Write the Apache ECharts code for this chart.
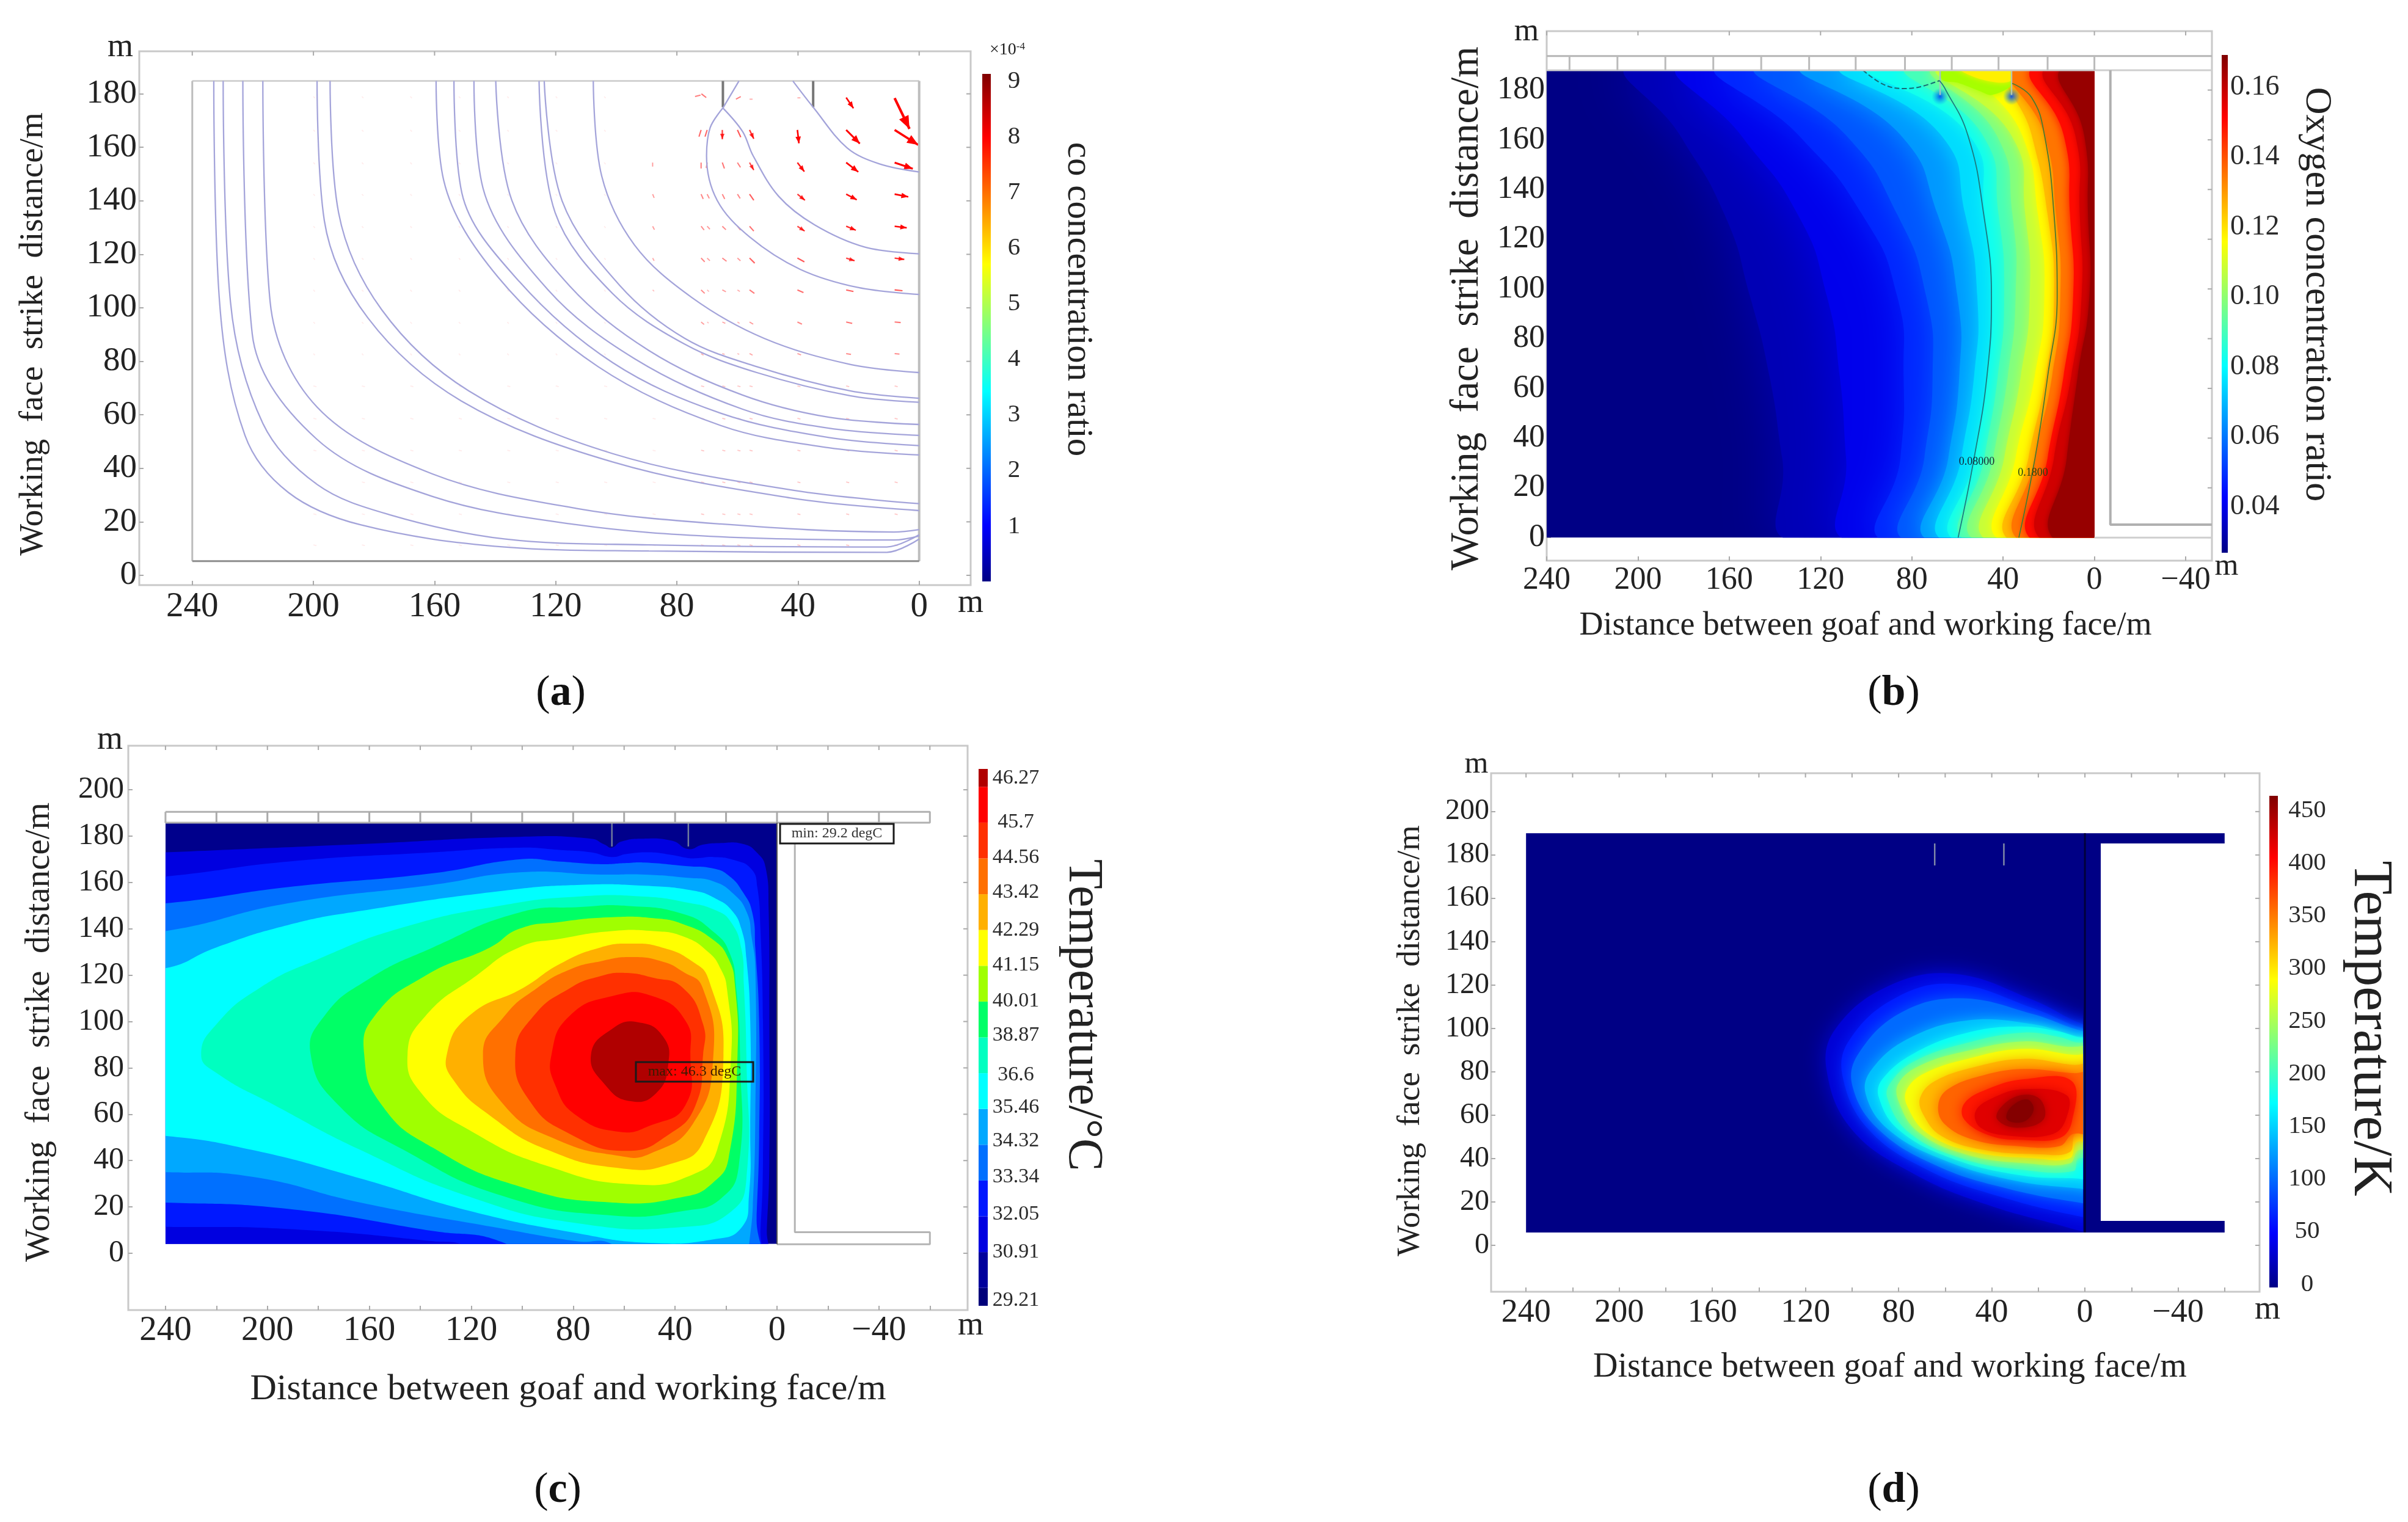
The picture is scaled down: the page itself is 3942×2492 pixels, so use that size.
<!DOCTYPE html>
<html><head><meta charset="utf-8">
<style>html,body{margin:0;padding:0;background:#fff}#c{width:3942px;height:2492px}</style>
<script src="https://cdn.jsdelivr.net/npm/echarts@6/dist/echarts.min.js"></script>
</head><body><div id="c"></div>
<script>
const FONT='Liberation Serif';
// tick labels
const xTicksA=[240,200,160,120,80,40,0];
const xTicksB=[240,200,160,120,80,40,0,-40];
const xMinorTicks=[240,220,200,180,160,140,120,100,80,60,40,20,0,-20,-40,-60];
const yTicksShort=[0,20,40,60,80,100,120,140,160,180];
const yTicksLong=[0,20,40,60,80,100,120,140,160,180,200];
const barTicksA=[1,2,3,4,5,6,7,8,9];
const barTicksB=[0.04,0.06,0.08,0.10,0.12,0.14,0.16];
const barTicksD=[0,50,100,150,200,250,300,350,400,450];
const barLabelsC=['29.21','30.91','32.05','33.34','34.32','35.46','36.6','38.87','40.01','41.15','42.29','43.42','44.56','45.7','46.27'];
const barLabelPosC=[0.15,1.5,2.55,3.6,4.6,5.55,6.45,7.55,8.52,9.52,10.5,11.55,12.52,13.52,14.75];
const bandColorsC=['#00007a','#00009c','#0000e0','#0018ff','#0070ff','#00a8ff','#00ffff','#00ffc0','#00ff66','#a0ff00','#ffff00','#ffb000','#ff7000','#ff3000','#ff0000','#b00000'];

// (a) CO contours
const aC1=[[0,150.8],[13.1,153.8],[23.8,159.8],[35,175],[41.7,184.8]];
const aC2=[[0,120.2],[17.9,122.7],[34.5,131],[46.4,141.7],[54.8,156.8],[58.3,165.9],[64.8,174.7]];
const aC2b=[[64.8,174.7],[59.5,184.8]];
const aC3=[[0,105],[20.2,107.6],[39.3,114.4],[56,126.5],[66.7,140.2],[70.2,156.8],[69,167.4],[64.8,174.7]];
const aC4=[[0,75.8],[22.6,78.8],[51.2,88.6],[75,103.8],[94,123.5],[104.8,149.2],[107.6,184.8]];
const aC5=[[0,66.2],[22.6,68.9],[53.6,78],[77.4,88.6],[98.8,108.3],[117.9,140],[123.8,184.8]];
const aC6=[[0,64.7],[22.6,67.1],[53.6,75.8],[77.4,86.4],[101.2,105.3],[120.2,135.6],[125.5,184.8]];
const aC7=[[0,56.4],[29.8,59.1],[58.3,67.4],[89.3,84.1],[115.5,108.3],[134.5,140.2],[139.8,184.8]];
const aC8=[[0,52.3],[29.8,55],[58.3,62.1],[94,81],[122.6,106.8],[144,144.7],[147,184.8]];
const aC9=[[0,48.5],[29.8,51.5],[65.5,60.6],[101.2,79.5],[132,109.8],[151,143],[153.6,184.8]];
const aC10=[[0,45],[29.8,47.7],[65.5,56],[106,78],[139,111.4],[157,147.7],[159.5,184.8]];
const aC11=[[0,26.8],[41.7,31.8],[101.2,45.5],[148.8,69],[177.4,99.2],[191.7,135.6],[194.5,184.8]];
const aC12=[[0,24.2],[41.7,28.8],[101.2,42.4],[151.2,65.2],[182,96.2],[196.4,132.6],[198.8,184.8]];
const aC13=[[0,17.1],[8.3,16.2],[65.5,19.2],[113,25],[160.7,37.9],[198.8,62.9],[214.3,102.3],[216.7,184.8]];
const aC14=[[0,14.7],[8.3,13.2],[65.5,14.4],[113,18.9],[160.7,29.5],[198.8,50.8],[220.2,90.2],[223.3,184.8]];
const aC15=[[0,15.2],[10.7,10.6],[89.3,11.4],[137,13.6],[175,22.7],[198.8,34],[216.7,56.8],[227.4,102.3],[229.8,184.8]];
const aC16=[[0,13.6],[10.7,8.6],[89.3,9.1],[136.9,10.6],[184.5,18.9],[208.3,31],[222.6,52.3],[231,102.3],[232.9,184.8]];
const aContours=[aC1,aC2,aC2b,aC3,aC4,aC5,aC6,aC7,aC8,aC9,aC10,aC11,aC12,aC13,aC14,aC15,aC16];
// arrows: x, y, metres toward the face, metres downward
const aArrows=[
[8.1,178.4,4.9,11.5],[24.1,178.6,2.4,4],[74,179,1.8,-.5],[71.9,180,1.6,1.4],[60.5,178,1.6,-1],[56,178,1,0],[40.2,178.5,1,0],
[8.1,166.5,7.8,5.6],[24.1,166.5,4.5,5.1],[40.2,166.5,.5,5],[56,166.5,1.4,3.3],[60,166.5,1.1,2.7],[65,166.5,0,3.5],[70,166.5,-.7,2.5],[72,166.5,-.7,2.5],
[8.1,154.3,6,2.3],[24.1,154.3,4,3.5],[40.2,154.3,2.3,3.4],[56,154.3,1.4,2.8],[60,154.3,1,1.8],[65,154.3,.7,2.2],[70,154.3,-.3,2],[72,154.3,0,2.2],[88,154.3,0,1.5],
[8.1,142.5,4.5,1],[24.1,142.5,3.5,2.1],[40.2,142.5,2.5,2.3],[56,142.5,1.4,2.3],[60,142.5,.9,1.6],[65,142.5,.8,1.8],[70,142.5,.7,1.6],[72,142.5,.7,1.8],[88,142.5,.5,1.4],
[8.1,130.5,4,.6],[24.1,130.5,3.2,1.5],[40.2,130.5,2.4,1.8],[56,130.5,1.4,1.8],[60,130.5,1,1.4],[65,130.5,1.2,1.3],[70,130.5,.9,1.1],[72,130.5,1,1.4],[88,130.5,.6,1.3],
[8.1,118.6,3.2,.5],[24.1,118.6,2.8,1],[40.2,118.6,2.3,1.4],[56,118.6,1.7,1.9],[60,118.6,1,1],[65,118.6,1.4,1.2],[70,118.6,.9,1],[72,118.6,1.2,1.4],[88,118.6,.5,1],
[8.1,106.7,2.6,.3],[24.1,106.7,2.4,.6],[40.2,106.7,2,1],[56,106.7,1.6,1.3],[60,106.7,.8,.6],[65,106.7,1.2,.7],[70,106.7,.6,.6],[72,106.7,1.2,1.3],[88,106.7,.5,.5],
[8.1,94.7,2,.2],[24.1,94.7,2,.5],[40.2,94.7,1.5,.8],[56,94.7,1.2,.8],[60,94.7,.7,.5],[65,94.7,1,.5],[70,94.7,.5,.4],[72,94.7,1,.9],
[8.1,82.9,1.6,.2],[24.1,82.9,1.6,.3],[40.2,82.9,1.2,.5],[56,82.9,1,.6],[60,82.9,.6,.3],[65,82.9,.8,.3],[72,82.9,.8,.6]];
const aFaintX=[8.1,24.1,40.2,56,60,65,72,88,104,120,136,152,168,184,200];
const aFaintY=[70.8,58.7,46.8,34.9,23,11.4];
const aFaintUpperX=[104,120,136,152,168,184,200];
const aFaintUpperY=[179,166.5,154.3,142.5,130.5,118.6,106.7,94.7,82.9];

// (b) oxygen: x position of each level at each row
const bRows=[190,162,130,97,65,32,-2];
const bLevels=[.033,.040,.048,.055,.065,.075,.082,.09,.098,.108,.116,.125,.135,.15,.158,.166];
const bLevelX=[
[201.3,181.7,162.1,150.9,142.4,136.8,131.2],
[178.9,155,130,117.2,111.6,108.8,106],
[162.1,129.8,101.8,86.4,83.6,85,90.6],
[145.2,109,86.4,73.7,70.9,74.5,80.8],
[125.6,85,68.7,60,59.2,64,70.9],
[108.8,67.3,56.6,51.3,52.7,58.3,64.5],
[97.6,55,48,44.9,46.8,52.4,59.4],
[80.8,49,42,39.5,42.3,48.2,55],
[69.5,42.9,35.9,34.5,37.9,44.3,50.8],
[67.3,36.5,30.3,28.3,32.2,39.5,45.7],
[49.9,31.7,24.7,21.9,26.1,34.5,40.1],
[36.5,27.5,20.5,17.7,21.3,28.9,35.9],
[35.3,21.9,16.8,14.9,18.5,26.1,31.7],
[26.1,13.5,10.7,9.3,13.5,20.5,26.1],
[20.5,8.4,6.4,5.6,10.1,17.7,21.9],
[13.5,4.5,2.8,2.2,7.3,12.1,16.3]];
const bBlur=[90,90,70,50,50,40,30,26,22,20,18,16,16,16,12,10];
const bWedgeGreen=[[67.6,189],[66.5,184],[60,183],[50,179.5],[45,178],[36.3,182],[36.3,189]];
const bWedgeYellow=[[60,189],[52,185],[42,183],[36.3,184],[36.3,189]];
const bLine08=[[59.7,0],[52.7,32],[47.1,64.7],[45.1,97],[48.5,130],[55.5,162],[65.7,181],[67.9,183.8]];
const bLine08Top=[[101.4,188],[92.5,182.3],[83.5,180.6],[76.4,181.3],[67.9,183.8]];
const bLine18=[[33.1,0],[26,32],[20.5,64.7],[16.3,97],[17.7,130],[21.9,162],[27.5,177],[36,182.7]];
const bWells=[[67.6,177.4],[36.3,177.4]];
const bBandTicks=[230,209,188,167,146,125,104.6,83,62.5,42,20.5,0];

// (c) temperature bands, coolest first
const cB2=[[260,172],[240,173],[163,176.6],[101,179.7],[73,178.9],[67.6,176.3],[64.8,175],[61.2,177.6],[53.2,178.9],[41.2,178],[34.8,174.4],[29.2,176.3],[22.8,177],[13.2,176.6],[7.7,172.7],[4.5,166.6],[3.3,149],[3,100],[3,40],[4,10],[5,-8],[260,-8]];
const cB3=[[260,162],[240,162.6],[192,169],[135,173],[101,175],[85,174],[73,173],[64.8,171],[59,172.3],[50,173],[41,171.8],[34.8,170.5],[31,170.5],[25,171],[17,169.7],[10,165.7],[7.7,157.8],[6.5,140],[5.5,100],[5.5,40],[6.5,10],[8,-8],[110,-8],[121,2.6],[135,5.2],[192,10.5],[240,11.4],[260,11.4]];
const cB4=[[260,151],[240,151],[192,158],[135,164],[101,170],[85,169],[69,167.9],[59,168.4],[52,168.6],[35,167],[25,166],[19,163],[13.5,156],[9.7,147],[8.5,131.5],[7,100],[7,50],[8,15],[9,-8],[95,-8],[107,4.4],[135,9.6],[192,19.2],[240,21.9],[260,21.9]];
const cB5=[[260,139],[240,139],[192,151],[135,159],[101,164.4],[69,163.4],[52,163.4],[35,162],[25,160.5],[17,155],[11.8,147],[10,136.7],[8.5,122.6],[8.5,60],[9.5,20],[11,3],[12,-8],[55,-8],[64.5,3.8],[78.6,5.2],[107,10.5],[163.5,21.9],[206,33],[240,35],[260,35]];
const cB6=[[260,123],[240,123],[220,132],[192,141.6],[163.5,147.7],[107,156.5],[77,159],[52,158.6],[32.5,156.4],[24,153],[17.8,148],[14,140],[12,127],[10.5,100],[10.5,55],[11,25],[14,11],[25,6],[50,4.5],[78.6,8.7],[121,18.4],[163.5,32.3],[206,44.6],[240,50.7],[260,50.7]];
const cB7=[[226,85.7],[220,98.8],[203,114.5],[180.5,126.7],[146.5,140.7],[107,150.3],[77,154],[52,153.9],[36,151.5],[24,148],[18,142.8],[14,131.5],[13,115.7],[12,85],[12,32],[18,18],[36,11.4],[78.6,13],[121,24.5],[163.5,44.6],[197,63.8],[220,77.8]];
const cB8=[[183,85.7],[177.7,102.3],[160.7,118],[135,132],[101.2,147],[77,149.4],[59,149.9],[36.8,146.4],[24.7,138.5],[18.6,129.6],[16,114.6],[14.5,85],[15,37.6],[22,23.6],[36,18.4],[64.5,16.3],[107,24.5],[146.5,44.6],[172,63.8]];
const cB9=[[162,85.7],[158,102.3],[138,119.8],[112.6,132],[101.2,140],[85,143],[64.8,145],[48.6,144.6],[36.8,142],[24.7,135],[19,127],[16.5,115.7],[15.5,85],[19,41],[25,30.6],[36,24.5],[64.5,21.9],[101,28.8],[135,45.5],[155,63.8]];
const cB10=[[145,85.7],[138,102.3],[118,119.8],[101.2,132],[85,135.7],[64.8,139],[48.6,139],[36.8,136.7],[27,130],[22,122.5],[19.6,113.8],[18,85],[23.5,44.6],[33,34],[56,29.7],[90,37.6],[121,53.3],[139.5,69]];
const cB11=[[129.6,85.7],[121,102.3],[99.5,114.6],[85,125],[69.2,132],[57.3,133.6],[45.3,132],[33.3,126],[26.8,118],[21,85],[29,48],[42,38.5],[61.6,36.7],[90,44.6],[112.6,59.4],[126.7,74.3]];
const cB12=[[115.4,85.7],[107,102.3],[94,114.6],[81.2,122.5],[69.3,126],[57.3,127.8],[45.3,126],[37.2,121.7],[29.2,114.6],[25,85],[33,55.9],[50,42.9],[61.6,42],[87,49.3],[107,63.8]];
const cB13=[[102.7,85.7],[95.6,102.3],[81,114.6],[69.3,119.6],[59.7,121],[49,119],[37,114.6],[29,98.8],[29,85.7],[32,63.8],[42,51.6],[59,44.2],[81.5,51.6],[97,65.6]];
const cB14=[[88.5,85.7],[81.5,102.3],[64.5,111],[49,111],[36,100.5],[34,85.7],[36,63.8],[50,55],[61.6,52.4],[78.6,59.4],[87,72.5]];
const cB15=[[73,85.7],[64.5,97],[54.6,99.7],[44.7,93.5],[42.7,81.3],[47.5,69],[57.4,65.6],[67.3,72.5]];
const cBands=[cB2,cB3,cB4,cB5,cB6,cB7,cB8,cB9,cB10,cB11,cB12,cB13,cB14,cB15];
const cBandTicks=[220,200,180,160,140,120,100,80,60,40,20,0,-20,-40];

// (d) temperature contours
const dLevels=[30,60,100,140,175,205,245,285,320,360,395,420,445,462];
const dBlur=[40,34,30,26,22,18,16,16,20,24,22,18,16,14];
const dK1=[[.8,101.9],[22,113],[56,125.2],[84.3,119.6],[107,100],[111,81.3],[100,53.3],[73,32.7],[41.9,18.7],[7.9,8.4],[.6,6.5]];
const dK2=[[.8,100],[22,109.3],[56,120.5],[81.5,114],[101.3,94.4],[104,77.6],[92.8,53.3],[67.3,34.6],[36.2,22.4],[.8,13]];
const dK3=[[1.7,99],[22,106.5],[53,113.9],[78.6,107.5],[97,88.8],[99.9,73.8],[88.5,53.3],[63,36.4],[33.4,26.2],[1.7,19.6]];
const dK4=[[2.3,96.3],[22,101.9],[50.4,103.7],[75.8,95.3],[91.4,81.3],[94.2,70],[84.3,53.3],[60.3,39.2],[30.6,29.9],[2.3,26.2]];
const dK5=[[2.3,95.9],[10.8,98.5],[27.7,100.9],[50.4,98.1],[73,88.8],[87,76.6],[88.5,68.2],[80,53.3],[57.4,40.2],[27.7,32.3],[2.8,30.8]];
const dK6=[[2.8,93.4],[10.8,96],[26.3,98.1],[50.4,93.4],[73,85],[83,75.7],[84.9,68.2],[75.8,52.3],[53.2,40.2],[27.7,35],[5,34.2],[2.8,40]];
const dK7=[[3.7,91.6],[7.9,91.6],[26.3,94],[50.4,89.7],[70.2,83.2],[80,74.8],[80,66.4],[71.6,52.3],[50.4,41.7],[24.9,37.8],[6.5,37.8],[2.8,43.9]];
const dK8=[[4.5,87.8],[26.3,90.6],[50.4,86],[68.7,79.4],[76.4,72],[76.4,64.5],[67.3,51.4],[47.5,43],[22,40.2],[6.5,40.2],[3.4,47.7]];
const dK9=[[5,83.2],[26.3,86],[47.5,82.2],[64.5,75.7],[70.7,68.2],[69.6,60.7],[61.7,50.5],[43.3,44],[19.2,42],[6.5,43],[4,51.4]];
const dK10=[[5,79.4],[26.3,81.3],[43.3,78.5],[58.8,72],[63,64.5],[60.3,56],[47.5,48.6],[29,45.8],[10.8,45.8],[5,51.4]];
const dK11=[[5.6,75.7],[26.3,76.6],[41.9,72],[51.8,65.4],[51.8,58],[40.5,50.5],[26.3,48.6],[10.8,49.5],[5.6,57]];
const dK12=[[7.9,69.2],[26.3,72],[39,68.2],[47,61.7],[44.7,54.2],[32,50.5],[13.6,51.4],[7.9,58.9]];
const dK13=[[19.2,67.3],[27.7,69.2],[36.2,63.5],[37.6,58],[29,54.2],[17.8,58]];
const dK14=[[24.9,67.3],[32,63.5],[33.4,58],[26.3,57],[22,62.6]];
const dContours=[dK1,dK2,dK3,dK4,dK5,dK6,dK7,dK8,dK9,dK10,dK11,dK12,dK13,dK14];
const dFrame=[[240,190],[-60,190],[-60,185.3],[-6.8,185.3],[-6.8,11.3],[-60,11.3],[-60,5.9],[240,5.9]];

// colour map
const jetStops=[[0,[0,0,133]],[.11,[0,0,255]],[.375,[0,255,255]],[.625,[255,255,0]],[.875,[255,0,0]],[1,[128,0,0]]];
function jet(t){t=Math.max(0,Math.min(1,t));for(let i=1;i<jetStops.length;i++){if(t<=jetStops[i][0]){const a=jetStops[i-1],b=jetStops[i],f=(t-a[0])/(b[0]-a[0]);return 'rgb('+a[1].map((v,k)=>Math.round(v+(b[1][k]-v)*f)).join(',')+')';}}return 'rgb(128,0,0)';}
const jetGradient=()=>new echarts.graphic.LinearGradient(0,1,0,0,jetStops.map(s=>({offset:s[0],color:jet(s[0])})));
const chart=echarts.init(document.getElementById('c'),null,{renderer:'canvas'});
const minus=v=>v<0?'\u2212'+(-v):String(v);
const grids=[],xAxes=[],yAxes=[],series=[],graphic=[];
function panel(g,o){
  const i=grids.length;grids.push(Object.assign({show:true,borderColor:'#c9c9c9',borderWidth:3,backgroundColor:'#fff'},g));
  xAxes.push({gridIndex:i,type:'value',inverse:true,min:o.xMin,max:o.xMax,splitLine:{show:false},axisLine:{show:false,onZero:false},
    axisTick:{show:true,inside:true,length:7,customValues:o.xMinor,lineStyle:{color:'#aaa',width:2}},
    axisLabel:{customValues:o.xTicks,formatter:minus,fontFamily:FONT,fontSize:o.xFont,color:'#222',margin:o.xMargin,hideOverlap:false}});
  yAxes.push({gridIndex:i,type:'value',min:o.yMin,max:o.yMax,splitLine:{show:false},axisLine:{show:false,onZero:false},
    axisTick:{show:true,inside:true,length:7,customValues:o.yTicks,lineStyle:{color:'#aaa',width:2}},
    axisLabel:{customValues:o.yTicks,fontFamily:FONT,fontSize:o.yFont,color:'#222',margin:o.yMargin,hideOverlap:false}});
  // matching ticks on the top and right edges of the frame
  const edge=o.xMinor.map(v=>[v,o.yMax,0,7]).concat(o.yTicks.map(v=>[o.xMin,v,-7,0]));
  series.push({type:'custom',coordinateSystem:'cartesian2d',xAxisIndex:i,yAxisIndex:i,silent:true,data:edge.map(e=>[e[0],e[1]]),
    renderItem:(p,api)=>{const e=edge[p.dataIndex],c=api.coord([e[0],e[1]]);
      return {type:'line',shape:{x1:c[0],y1:c[1],x2:c[0]+e[2],y2:c[1]+e[3]},style:{stroke:'#aaa',lineWidth:2}};}});
  return i;
}
function colorBar(g,o){
  const i=grids.length;grids.push(Object.assign({show:false},g));
  xAxes.push({gridIndex:i,type:'value',min:0,max:1,show:false});
  yAxes.push({gridIndex:i,type:'value',position:'right',min:o.min,max:o.max,splitLine:{show:false},axisLine:{show:false,onZero:false},axisTick:{show:false},
    axisLabel:{customValues:o.ticks,formatter:o.fmt,fontFamily:FONT,fontSize:o.font,color:'#2a2a2a',margin:o.margin,align:o.align,hideOverlap:false}});
  const bands=o.bands||[{lo:o.min,hi:o.max,fill:jetGradient()}];
  series.push({type:'custom',coordinateSystem:'cartesian2d',xAxisIndex:i,yAxisIndex:i,silent:true,data:bands.map(b=>[0,b.lo,1,b.hi]),
    renderItem:(p,api)=>{const b=bands[p.dataIndex],a=api.coord([0,b.lo]),c=api.coord([1,b.hi]);
      return {type:'rect',shape:{x:a[0],y:c[1],width:c[0]-a[0],height:a[1]-c[1]},style:{fill:b.fill}};}});
}
function polys(ax,list,box,smooth){
  series.push({type:'custom',coordinateSystem:'cartesian2d',xAxisIndex:ax,yAxisIndex:ax,silent:true,clip:false,
    data:list.map(p=>[p.pts[0][0],p.pts[0][1]]),
    renderItem:(pr,api)=>{const p=list[pr.dataIndex];
      const el={type:'polygon',shape:{points:p.pts.map(q=>api.coord(q)),smooth:p.smooth===undefined?smooth:p.smooth},
        style:{fill:p.fill,shadowBlur:p.blur||0,shadowColor:p.blur?p.fill:'transparent'}};
      if(box){const a=api.coord([box[0],box[1]]),c=api.coord([box[2],box[3]]);
        el.clipPath={type:'rect',shape:{x:a[0],y:a[1],width:c[0]-a[0],height:c[1]-a[1]}};}
      return el;}});
}
function line(ax,pts,color,width,smooth,dash){
  series.push({type:'line',xAxisIndex:ax,yAxisIndex:ax,data:pts,showSymbol:false,smooth:smooth||false,silent:true,
    lineStyle:{color:color,width:width,type:dash||'solid'}});
}
function txt(text,x,y,size,rot,extra){
  graphic.push({type:'text',z:100,x:x,y:y,rotation:rot||0,silent:true,
    style:Object.assign({text:text,fontFamily:FONT,fontSize:size,fill:'#222',textAlign:'center',textVerticalAlign:'middle'},extra||{})});
}
const HALF=Math.PI/2;
const YT='Working  face  strike  distance/m',XT='Distance between goaf and working face/m';

// ---------- (a)
const A=panel({left:228,top:84,width:1361,height:874},{xMin:-17,xMax:257.5,yMin:-3.65,yMax:195.9,xTicks:xTicksA,xMinor:xTicksA,yTicks:yTicksShort,xFont:57,yFont:55,xMargin:8,yMargin:4});
line(A,[[240,184.8],[0,184.8]],'#d2d2d2',3);
line(A,[[240,184.8],[240,5.3]],'#bdbdbd',3);
line(A,[[0,184.8],[0,5.3]],'#bdbdbd',4);
line(A,[[240,5.3],[0,5.3]],'#8d8d8d',3);
line(A,[[64.8,184.8],[64.8,175]],'#777',4);
line(A,[[35,184.8],[35,175]],'#777',4);
aContours.forEach(c=>line(A,c,'#a4a4da',2.3,c.length>2?0.35:false));
const faint=[];
aFaintY.forEach(y=>aFaintX.forEach(x=>faint.push([x,y,1,.3])));
aFaintUpperY.forEach(y=>aFaintUpperX.forEach(x=>faint.push([x,y,.5,.6])));
const arrowData=aArrows.concat(faint);
series.push({type:'custom',coordinateSystem:'cartesian2d',xAxisIndex:A,yAxisIndex:A,silent:true,data:arrowData.map(a=>[a[0],a[1]]),
  renderItem:(p,api)=>{const a=arrowData[p.dataIndex],s=api.coord([a[0],a[1]]),e=api.coord([a[0]-a[2],a[1]-a[3]]);
    const dx=e[0]-s[0],dy=e[1]-s[1],L=Math.hypot(dx,dy)||1,ux=dx/L,uy=dy/L;
    const isFaint=p.dataIndex>=aArrows.length;
    const al=isFaint?(a[0]>80?.08:.22):Math.min(1,.12+L/24),w=1.6+L/22,h=3+L/5;
    const col='rgba(255,0,0,'+al+')';
    const children=[{type:'line',shape:{x1:s[0],y1:s[1],x2:e[0],y2:e[1]},style:{stroke:col,lineWidth:w}}];
    if(L>14)children.push({type:'polygon',shape:{points:[e,[e[0]-ux*h*1.5-uy*h*.6,e[1]-uy*h*1.5+ux*h*.6],[e[0]-ux*h*1.5+uy*h*.6,e[1]-uy*h*1.5-ux*h*.6]]},style:{fill:col}});
    return {type:'group',children:children};}});
colorBar({left:1608,top:121,width:14,height:831},{min:.01,max:9.13,ticks:barTicksA,font:41,margin:38,align:'center',fmt:v=>String(v)});
txt(YT,55,547,55,HALF);
txt('co concentration ratio',1764,490,59,-HALF);
txt('m',197,78,54);txt('m',1589,988,54);
txt('{a|\u00d710}{b|-4}',1649,82,28,0,{rich:{a:{fontFamily:FONT,fontSize:28,fill:'#222'},b:{fontFamily:FONT,fontSize:17,fill:'#222',verticalAlign:'top'}}});

// ---------- (b)
const B=panel({left:2532,top:51,width:1089,height:867},{xMin:-51.5,xMax:240,yMin:-9.3,yMax:203.7,xTicks:xTicksB,xMinor:[240,200,160,120,80,40,0,-40],yTicks:yTicksShort,xFont:52,yFont:52,xMargin:6,yMargin:3});
const bPolys=[{pts:[[240,188],[0,188],[0,0],[240,0]],fill:jet(0),smooth:0}];
bLevelX.forEach((xs,i)=>{bPolys.push({fill:jet((bLevels[i]-.0268)/.1424),blur:bBlur[i],
  pts:bRows.map((y,k)=>[xs[k],y]).concat([[-30,-2],[-30,190]])});});
polys(B,bPolys,[240,188,0,0],0.55);
polys(B,[{pts:bWedgeGreen,fill:'#a6ff00',blur:14},{pts:bWedgeYellow,fill:'#fff000',blur:10}],[67.6,188,36.3,170],0.3);
series.push({type:'custom',coordinateSystem:'cartesian2d',xAxisIndex:B,yAxisIndex:B,silent:true,data:bWells,
  renderItem:(p,api)=>{const c=api.coord(bWells[p.dataIndex]);
    return {type:'circle',shape:{cx:c[0],cy:c[1],r:14},style:{fill:new echarts.graphic.RadialGradient(.5,.5,.5,[{offset:0,color:'rgba(0,70,240,.9)'},{offset:1,color:'rgba(0,140,255,0)'}])}};}});
line(B,[[67.6,188],[67.6,178]],'#9fc4c4',2.5);line(B,[[36.3,188],[36.3,178]],'#b6c8a8',2.5);
line(B,bLine08,'#1c7a80',1.8,0.45);line(B,bLine08Top,'#166a74',2,0.4,'dashed');line(B,bLine18,'#4a7a30',1.8,0.45);
line(B,[[240,193.7],[-51.5,193.7]],'#b5b5b5',3);
line(B,[[240,188],[-51.5,188]],'#cfcfcf',3);
bBandTicks.forEach(x=>line(B,[[x,193.7],[x,188]],'#bbb',3));
line(B,[[-7,188],[-7,5.2],[-51.5,5.2]],'#b0b0b0',4);
line(B,[[0,0],[-51.5,0]],'#cfcfcf',3);
colorBar({left:3637,top:90,width:10,height:815},{min:.0268,max:.1692,ticks:barTicksB,font:46,margin:4,align:'left',fmt:v=>v.toFixed(2)});
txt(YT,2402,505,65,HALF);
txt(XT,3054,1025,54);
txt('Oxygen concentration ratio',3792,482,62,-HALF);
txt('m',2499,52,52);txt('m',3645,928,50);
txt('0.08000',3236,756,18,0,{fill:'#123'});txt('0.1800',3328,774,18,0,{fill:'#241'});

// ---------- (c)
const C=panel({left:210,top:1221,width:1374,height:924},{xMin:-74.8,xMax:254.6,yMin:-24.5,yMax:219,xTicks:xTicksB,xMinor:xMinorTicks,yTicks:yTicksLong,xFont:57,yFont:50,xMargin:6,yMargin:7});
const cPolys=[{pts:[[240,185.8],[0,185.8],[0,4],[240,4]],fill:'#00008c',smooth:0}];
cBands.forEach((pts,i)=>cPolys.push({pts:pts,fill:bandColorsC[i+2]}));
polys(C,cPolys,[240,185.8,0,4],0.5);
line(C,[[64.8,185.8],[64.8,175.5]],'#6f7a9c',2.5);line(C,[[34.8,185.8],[34.8,175.5]],'#6f7a9c',2.5);
line(C,[[240,190.5],[-60,190.5],[-60,185.8],[240,185.8],[240,190.5]],'#b0b0b0',3);
cBandTicks.forEach(x=>line(C,[[x,190.5],[x,185.8]],'#aaa',3));
line(C,[[-7,185.8],[-7,9.1],[-60,9.1],[-60,3.9],[0,3.9]],'#b4b4b4',3);
line(C,[[0,185.8],[0,3.9]],'#555',2);
colorBar({left:1602,top:1259,width:15,height:879},{min:0,max:15,ticks:barLabelPosC,font:34,margin:46,align:'center',
  fmt:v=>barLabelsC[barLabelPosC.indexOf(v)],
  bands:bandColorsC.map((c,i)=>({lo:i===0?0:i-.5,hi:i===15?15:i+.5,fill:c}))});
txt(YT,65,1690,57,HALF);
txt(XT,930,2275,60);
txt('Temperature/\u00b0C',1772,1662,80,-HALF);
txt('m',180,1212,54);txt('m',1589,2171,54);
graphic.push({type:'rect',z:100,silent:true,shape:{x:1277,y:1349,width:186,height:32},style:{fill:'#fff',stroke:'#1a1a1a',lineWidth:3}});
txt('min: 29.2 degC',1370,1365,24,0,{fill:'#333'});
graphic.push({type:'rect',z:100,silent:true,shape:{x:1041,y:1739,width:192,height:32},style:{fill:'transparent',stroke:'#1a1a1a',lineWidth:3}});
txt('max: 46.3 degC',1137,1755,24,0,{fill:'#3a1a00'});

// ---------- (d)
const D=panel({left:2441,top:1266,width:1258,height:849},{xMin:-75,xMax:255,yMin:-21.4,yMax:217.7,xTicks:xTicksB,xMinor:xMinorTicks,yTicks:yTicksLong,xFont:54,yFont:48,xMargin:8,yMargin:3});
polys(D,[{pts:dFrame,fill:jet(0),smooth:0}],null,0);
const dPolys=[];
dContours.forEach((pts,i)=>{dPolys.push({pts:pts.concat(i<10?[[-6,pts[pts.length-1][1]],[-6,pts[0][1]]]:[]),fill:jet((dLevels[i]+3)/467),blur:dBlur[i]});});
polys(D,dPolys,[240,190,.8,5.9],0.4);
line(D,[[0,190],[0,5.9]],'#00003a',3);
line(D,[[64.5,185.3],[64.5,175.2]],'#7f87a8',2.5);line(D,[[34.8,185.3],[34.8,175.2]],'#7f87a8',2.5);
colorBar({left:3715,top:1303,width:14,height:805},{min:-3,max:464,ticks:barTicksD,font:41,margin:48,align:'center',fmt:v=>String(v)});
txt(YT,2309,1704,53.5,HALF);
txt(XT,3094,2239,56);
txt('Temperature/K',3879,1684,91,-HALF);
txt('m',2417,1252,50);txt('m',3712,2145,54);

// captions
function cap(l,x,y){txt('{n|(}{b|'+l+'}{n|)}',x,y,70,0,{rich:{n:{fontFamily:FONT,fontSize:70,fill:'#111'},b:{fontFamily:FONT,fontSize:70,fontWeight:'bold',fill:'#111'}}});}
cap('a',918,1136);cap('b',3100,1136);cap('c',913,2441);cap('d',3100,2441);

chart.setOption({animation:false,backgroundColor:'#fff',grid:grids,xAxis:xAxes,yAxis:yAxes,series:series,graphic:graphic});
</script></body></html>
